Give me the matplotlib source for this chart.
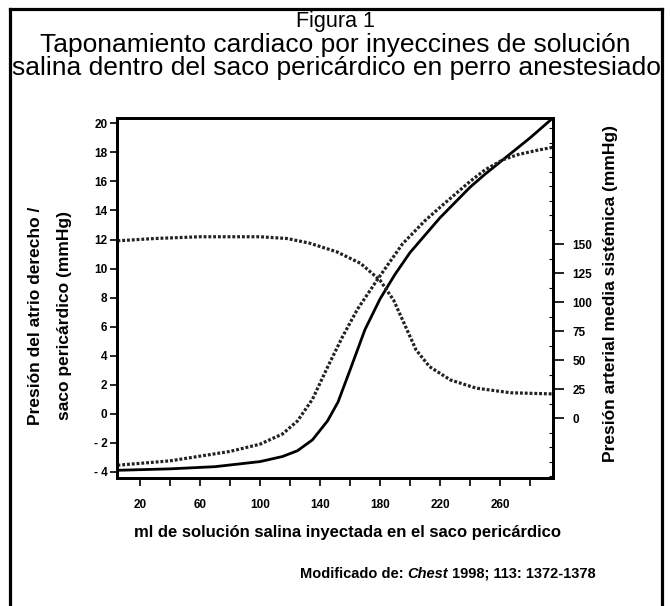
import matplotlib
matplotlib.use("Agg")
import matplotlib.pyplot as plt
from matplotlib.lines import Line2D

plt.rcParams['font.family'] = ['Liberation Sans', 'DejaVu Sans']

# ---- data ----
ra_x = [5, 40, 70, 100, 115, 125, 135, 145, 152, 160, 170, 180, 190, 200, 220, 240, 250, 262, 280, 295]
ra_y = [-3.9, -3.8, -3.65, -3.3, -2.95, -2.55, -1.8, -0.5, 0.8, 3.0, 5.8, 7.9, 9.6, 11.1, 13.5, 15.6, 16.5, 17.5, 19.0, 20.35]

pc_x = [5, 40, 80, 100, 115, 125, 135, 145, 155, 165, 178, 195, 210, 222, 240, 250, 262, 272, 285, 295]
pc_y = [-3.55, -3.25, -2.6, -2.1, -1.4, -0.5, 1.0, 3.2, 5.3, 7.2, 9.2, 11.7, 13.3, 14.4, 16.0, 16.8, 17.5, 17.85, 18.15, 18.35]

ap_x = [5, 30, 60, 100, 118, 133, 151, 167, 180, 189, 196, 204, 213, 227, 244, 267, 295]
ap_v = [153, 155, 156.5, 156.5, 155, 151, 143.6, 133.6, 119, 102, 82, 59, 44.5, 33, 26, 22, 21]

x_ticks = [20, 40, 60, 80, 100, 120, 140, 160, 180, 200, 220, 240, 260, 280]
x_labels = ['20', '', '60', '', '100', '', '140', '', '180', '', '220', '', '260', '']
yl_ticks = [20, 18, 16, 14, 12, 10, 8, 6, 4, 2, 0, -2, -4]
yl_labels = ['20', '18', '16', '14', '12', '10', '8', '6', '4', '2', '0', '- 2', '- 4']
yr_ticks = [0, 25, 50, 75, 100, 125, 150]
yr_labels = ['0', '25', '50', '75', '100', '125', '150']

W, H = 670, 606
fig = plt.figure(figsize=(W / 100, H / 100), dpi=100)
fig.patch.set_facecolor('white')

ax = fig.add_axes([117 / W, 1 - 478 / H, (553 - 117) / W, (478 - 118) / H])
ax.set_xlim(4.7, 295.3)
ax.set_ylim(-4.43, 20.37)
ax2 = ax.twinx()
ax2.set_ylim(-51.5, 258.9)

dot = (0, (0.9, 0.6))
ax.plot(ra_x, ra_y, color='black', lw=2.0, solid_capstyle='butt')
ax.plot(pc_x, pc_y, color='#222222', lw=2.3, linestyle=dot)
ax2.plot(ap_x, ap_v, color='#222222', lw=2.3, linestyle=dot)

for a in (ax, ax2):
    for s in a.spines.values():
        s.set_linewidth(2.0)

tick_font = dict(fontsize=8.5, fontweight='bold')
ax.set_xticks(x_ticks)
ax.set_xticklabels(x_labels, **tick_font)
ax.set_yticks(yl_ticks)
ax.set_yticklabels(yl_labels, **tick_font)
ax.tick_params(axis='x', direction='out', length=6, width=1.2, pad=9)
ax.tick_params(axis='y', direction='out', length=5, width=1.2, pad=2)

ax2.set_yticks(yr_ticks)
ax2.set_yticklabels(yr_labels, **tick_font)
ax2.set_yticks([v * 12.5 for v in range(-4, 21)], minor=True)
ax2.tick_params(axis='y', which='major', direction='out', length=8, width=1.2, pad=6)
ax2.tick_params(axis='y', which='minor', direction='in', length=3, width=0.8)

ylab_font = dict(fontsize=12.5, fontweight='bold')
fig.text(36 / W, 1 - 316 / H, 'Presión del atrio derecho /', rotation=90,
         ha='center', va='center', **ylab_font)
fig.text(65 / W, 1 - 316 / H, 'saco pericárdico (mmHg)', rotation=90,
         ha='center', va='center', **ylab_font)
fig.text(611 / W, 1 - 294 / H, 'Presión arterial media sistémica (mmHg)', rotation=90,
         ha='center', va='center', **ylab_font)
fig.text(348 / W, 1 - 532 / H, 'ml de solución salina inyectada en el saco pericárdico',
         ha='center', va='center', fontsize=12, fontweight='bold')

fig.text(335 / W, 1 - 27 / H, 'Figura 1', ha='center', va='baseline', fontsize=15.5)
fig.text(335 / W, 1 - 52 / H, 'Taponamiento cardiaco por inyeccines de solución',
         ha='center', va='baseline', fontsize=19)
fig.text(336 / W, 1 - 75 / H, 'salina dentro del saco pericárdico en perro anestesiado',
         ha='center', va='baseline', fontsize=19)

note_font = dict(fontsize=10.5, fontweight='bold')
t1 = fig.text(300 / W, 1 - 578 / H, 'Modificado de: ', ha='left', va='baseline', **note_font)
t2 = ax.annotate('Chest', xy=(1, 0), xycoords=t1, ha='left', va='bottom',
                 style='italic', annotation_clip=False, **note_font)
ax.annotate(' 1998; 113: 1372-1378', xy=(1, 0), xycoords=t2, ha='left', va='bottom',
            annotation_clip=False, **note_font)

# outer frame (open at bottom)
lw_f = 2.3
fig.add_artist(Line2D([10 / W, 10 / W], [0, 1 - 9 / H], transform=fig.transFigure,
                      color='black', lw=lw_f))
fig.add_artist(Line2D([662 / W, 662 / W], [0, 1 - 9 / H], transform=fig.transFigure,
                      color='black', lw=lw_f))
fig.add_artist(Line2D([10 / W, 662 / W], [1 - 9 / H, 1 - 9 / H], transform=fig.transFigure,
                      color='black', lw=lw_f))

fig.savefig('out.png', dpi=100)
